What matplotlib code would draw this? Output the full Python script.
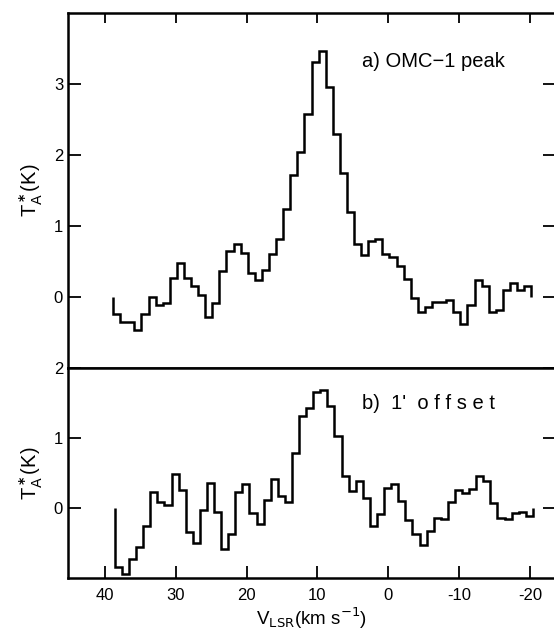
import matplotlib
matplotlib.use("Agg")
import matplotlib.pyplot as plt
import numpy as np

# channel width and first channel edge (km/s)
chan_width = 1.0
v_start_a = 38.83
v_start_b = 38.59

# a) OMC-1 peak, T_A* (K), channels from high to low velocity
ta_peak = [-0.24, -0.35, -0.36, -0.47, -0.24, 0.00, -0.12, -0.09, 0.27, 0.47,
           0.26, 0.15, 0.02, -0.28, -0.09, 0.36, 0.65, 0.75, 0.61, 0.33,
           0.24, 0.38, 0.60, 0.82, 1.23, 1.72, 2.04, 2.57, 3.31, 3.46,
           2.96, 2.29, 1.74, 1.20, 0.75, 0.59, 0.79, 0.81, 0.60, 0.56,
           0.43, 0.25, -0.02, -0.21, -0.15, -0.08, -0.07, -0.04, -0.21, -0.39,
           -0.12, 0.24, 0.15, -0.21, -0.19, 0.09, 0.19, 0.10, 0.15]

# b) 1' offset
ta_offset = [-0.84, -0.94, -0.72, -0.56, -0.25, 0.23, 0.08, 0.05, 0.48, 0.26,
             -0.34, -0.50, -0.03, 0.36, -0.06, -0.58, -0.37, 0.23, 0.35, -0.07,
             -0.23, 0.12, 0.42, 0.17, 0.09, 0.78, 1.31, 1.43, 1.65, 1.68,
             1.46, 1.03, 0.45, 0.24, 0.38, 0.15, -0.25, -0.08, 0.29, 0.35,
             0.10, -0.17, -0.37, -0.53, -0.33, -0.14, -0.15, 0.08, 0.26, 0.21,
             0.27, 0.46, 0.38, 0.07, -0.14, -0.16, -0.07, -0.05, -0.11]

x_ticks = [40, 30, 20, 10, 0, -10, -20]
x_ticklabels = ["40", "30", "20", "10", "0", "-10", "-20"]

plt.rcParams["font.family"] = ["Liberation Sans", "DejaVu Sans"]

fig = plt.figure(figsize=(5.54, 6.35), dpi=100)
ax1 = fig.add_axes([0.1227, 0.421, 0.88, 0.5585])
ax2 = fig.add_axes([0.1227, 0.0893, 0.88, 0.3317])

edges_a = v_start_a - chan_width * np.arange(len(ta_peak) + 1)
edges_b = v_start_b - chan_width * np.arange(len(ta_offset) + 1)

ax1.stairs(ta_peak, edges_a, baseline=0, color="black", linewidth=1.8)
ax2.stairs(ta_offset, edges_b, baseline=0, color="black", linewidth=1.8)

for ax in (ax1, ax2):
    ax.set_xlim(45.2, -23.6)
    ax.set_xticks(x_ticks)
    for s in ax.spines.values():
        s.set_linewidth(1.8)
    ax.tick_params(direction="in", length=9, width=1.3, labelsize=12,
                   left=True, right=True)
    ax.set_ylabel(r"T$^{\bf *}_{\rm A}$(K)", fontsize=14.5, labelpad=6)

ax1.set_ylim(-1, 4)
ax1.set_yticks([0, 1, 2, 3])
ax1.tick_params(axis="x", top=True, bottom=False, labelbottom=False, length=7)

ax2.set_ylim(-1, 2)
ax2.set_yticks([0, 1, 2])
ax2.set_xticklabels(x_ticklabels)
ax2.tick_params(axis="x", top=False, bottom=True, pad=7)
ax2.set_xlabel(r"V$_{\rm LSR}$(km s$^{-1}$)", fontsize=13.5, labelpad=2)

ax1.text(0.603, 0.862, "a) OMC\u22121 peak", transform=ax1.transAxes,
         fontsize=14.5, va="center")
ax2.text(0.603, 0.832, "b)  1'  o f f s e t", transform=ax2.transAxes,
         fontsize=14.5, va="center")

fig.savefig("out.png", dpi=100)
